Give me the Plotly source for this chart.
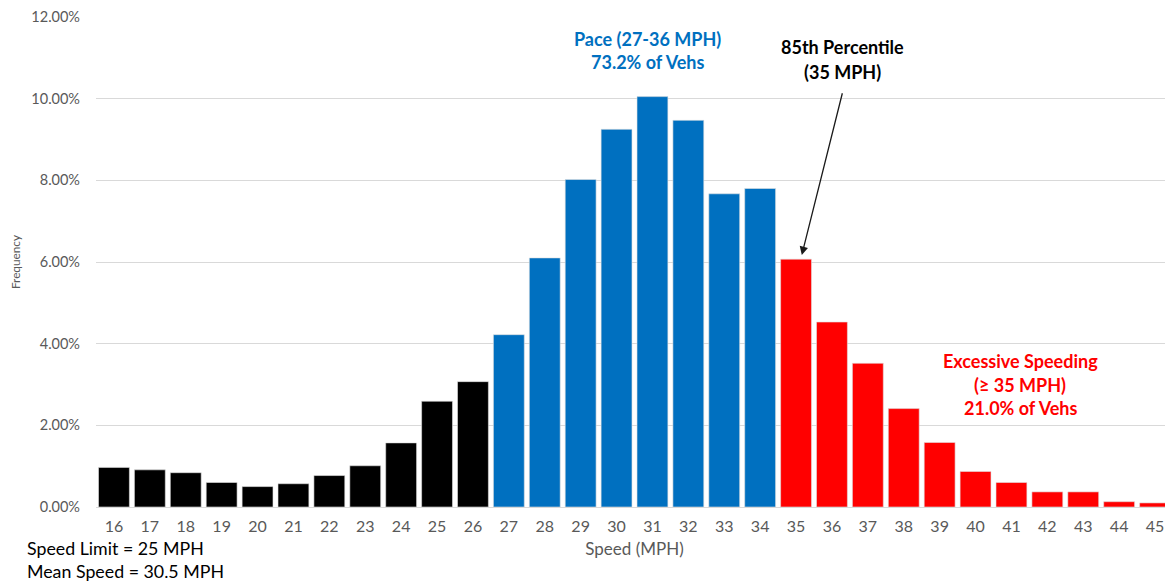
import plotly.graph_objects as go

speeds = list(range(16, 46))
freq = [0.97, 0.91, 0.84, 0.60, 0.50, 0.57, 0.77, 1.01, 1.57, 2.59, 3.07,
        4.22, 6.10, 8.02, 9.25, 10.05, 9.47, 7.67, 7.80,
        6.07, 4.53, 3.52, 2.41, 1.58, 0.87, 0.60, 0.37, 0.37, 0.13, 0.10]
y_ticks = [0, 2, 4, 6, 8, 10, 12]

BLACK = "#000000"
BLUE = "#0070C0"
RED = "#FF0000"
colors = [BLACK if s < 27 else (BLUE if s < 35 else RED) for s in speeds]

FONT = "Lato"
GRAY = "#595959"

fig = go.Figure(go.Bar(
    x=speeds, y=freq, marker=dict(color=colors, line=dict(color="#E0E0E0", width=0.6)),
    showlegend=False,
))

# page body adds an 8px offset; figure sized to fill the rest of the window
fig.update_layout(
    width=1165, height=578,
    margin=dict(l=88, r=0, t=9, b=79),
    plot_bgcolor="white", paper_bgcolor="white",
    bargap=0.14,
    font=dict(family=FONT, color=GRAY, size=13),
    xaxis=dict(
        range=[15.5, 45.5], tickmode="array", tickvals=speeds,
        ticktext=[str(s) for s in speeds], showgrid=False, zeroline=False,
        showline=False, ticks="", tickfont=dict(size=16, color=GRAY),
        automargin=False, ticklabelstandoff=8,
        title=dict(text="Speed (MPH)", font=dict(size=17, color=GRAY), standoff=9),
    ),
    yaxis=dict(
        range=[0, 12], tickmode="array", tickvals=y_ticks,
        ticktext=[f"{v:.2f}%" for v in y_ticks],
        showgrid=True, gridcolor="#D9D9D9", gridwidth=1,
        zeroline=True, zerolinecolor="#D9D9D9", zerolinewidth=1,
        showline=False, ticks="", tickfont=dict(size=14.5, color=GRAY),
        ticklabelstandoff=15, automargin=False, ticklabeloverflow="allow",
        title=dict(text="Frequency", font=dict(size=11.8, color=GRAY), standoff=25),
    ),
)

def txt(x, y, s, color, size=18, bold=True):
    fig.add_annotation(x=x, y=y, xref="x", yref="y", text=(f"<b>{s}</b>" if bold else s),
                       showarrow=False, xanchor="center", yanchor="middle",
                       font=dict(family=FONT, size=size, color=color))

# Pace
txt(30.85, 11.46, "Pace (27-36 MPH)", BLUE)
txt(30.85, 10.90, "73.2% of Vehs", BLUE)
# 85th percentile
txt(36.28, 11.26, "85th Percentile", BLACK)
txt(36.28, 10.65, "(35 MPH)", BLACK)
# Excessive speeding
txt(41.24, 3.57, "Excessive Speeding", RED)
txt(41.24, 2.98, "(\u2265 35 MPH)", RED)
txt(41.24, 2.42, "21.0% of Vehs", RED)

# Arrow to 85th percentile bar
fig.add_annotation(x=35.16, y=6.17, ax=36.30, ay=10.17, xref="x", yref="y",
                   axref="x", ayref="y", text="", showarrow=True,
                   arrowhead=2, arrowsize=1.3, arrowwidth=1.3, arrowcolor="#1a1a1a")

# Notes bottom-left
fig.add_annotation(x=-0.066, y=-0.0837, xref="paper", yref="paper",
                   text="Speed Limit = 25 MPH", showarrow=False,
                   xanchor="left", yanchor="middle",
                   font=dict(family=FONT, size=17.8, color="#000000"))
fig.add_annotation(x=-0.066, y=-0.131, xref="paper", yref="paper",
                   text="Mean Speed = 30.5 MPH", showarrow=False,
                   xanchor="left", yanchor="middle",
                   font=dict(family=FONT, size=17.8, color="#000000"))

fig.write_html("out.html")
